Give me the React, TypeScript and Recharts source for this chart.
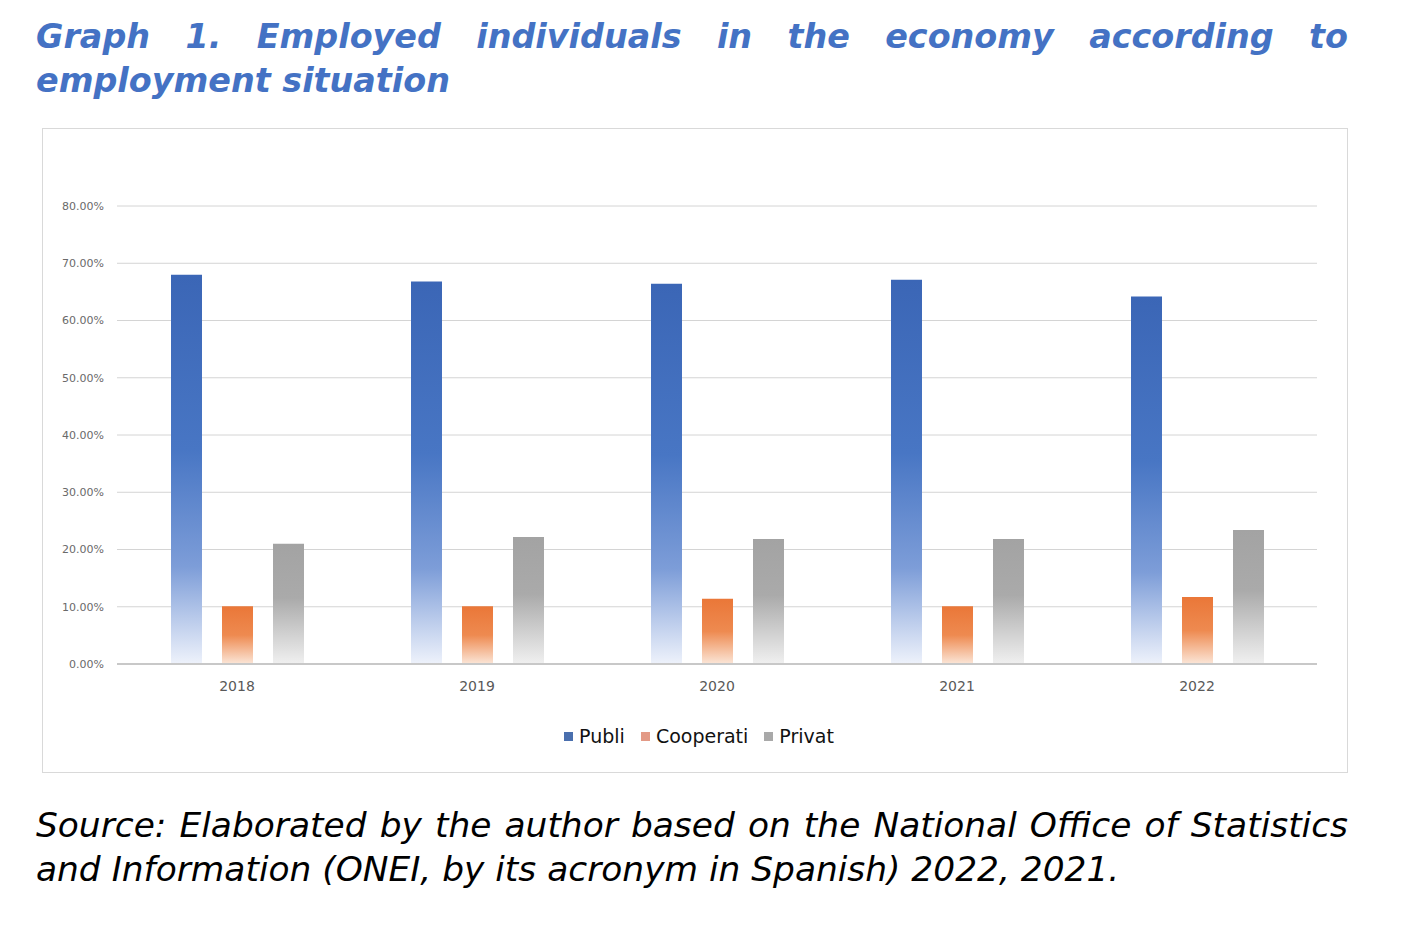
import {
  BarChart,
  Bar,
  XAxis,
  YAxis,
  CartesianGrid,
  Legend,
} from "recharts";

const years = ["2018", "2019", "2020", "2021", "2022"];
const publi = [68.0, 66.8, 66.4, 67.1, 64.2];
const cooperati = [10.1, 10.1, 11.4, 10.1, 11.7];
const privat = [21.0, 22.2, 21.85, 21.85, 23.4];
const yTicks = [0, 10, 20, 30, 40, 50, 60, 70, 80];

const SERIES = [
  { key: "Publi", name: "Publi", icon: "#4a6fae" },
  { key: "Cooperati", name: "Cooperati", icon: "#e39a86" },
  { key: "Privat", name: "Privat", icon: "#a9a9a9" },
];

const data = years.map((year, i) => ({
  year,
  Publi: publi[i],
  Cooperati: cooperati[i],
  Privat: privat[i],
}));

// fixed order, recharts sorts the payload otherwise
const LegendContent = () => (
  <div
    style={{
      display: "flex",
      justifyContent: "center",
      alignItems: "center",
      height: 24,
      paddingLeft: 8,
      fontFamily: "'DejaVu Sans', sans-serif",
      fontSize: 19,
      color: "#111",
    }}
  >
    {SERIES.map((s, i) => (
      <div
        key={s.key}
        style={{
          display: "flex",
          alignItems: "center",
          marginLeft: i === 0 ? 0 : 16,
        }}
      >
        <span
          style={{
            display: "inline-block",
            width: 9,
            height: 9,
            background: s.icon,
            marginRight: 6,
          }}
        />
        <span>{s.name}</span>
      </div>
    ))}
  </div>
);

export default function App() {
  return (
    <div
      style={{
        position: "absolute",
        left: 0,
        top: 0,
        width: 1424,
        height: 946,
        background: "#fff",
      }}
    >
      <div
        style={{
          position: "absolute",
          left: 36,
          top: 15,
          width: 1312,
          fontFamily: "'DejaVu Sans', sans-serif",
          fontWeight: "bold",
          fontStyle: "italic",
          fontSize: 33.4,
          lineHeight: "44px",
          color: "#4472c4",
        }}
      >
        <div style={{ textAlign: "justify", textAlignLast: "justify" }}>
          Graph 1. Employed individuals in the economy according to
        </div>
        <div>employment situation</div>
      </div>

      <div
        style={{
          position: "absolute",
          left: 42,
          top: 128,
          width: 1306,
          height: 645,
          border: "1px solid #d9d9d9",
          boxSizing: "border-box",
        }}
      >
        <BarChart
          width={1304}
          height={643}
          data={data}
          margin={{ top: 77, right: 30, left: 0, bottom: 24 }}
          barSize={31}
          barGap={20}
        >
          <defs>
            <linearGradient id="gPubli" x1="0" y1="0" x2="0" y2="1">
              <stop offset="0" stopColor="#3b66b6" />
              <stop offset="0.45" stopColor="#4876c4" />
              <stop offset="0.75" stopColor="#7d9dd8" />
              <stop offset="1" stopColor="#eef2fb" />
            </linearGradient>
            <linearGradient id="gCoop" x1="0" y1="0" x2="0" y2="1">
              <stop offset="0" stopColor="#ea7738" />
              <stop offset="0.5" stopColor="#ee8a50" />
              <stop offset="1" stopColor="#fbe6d8" />
            </linearGradient>
            <linearGradient id="gPriv" x1="0" y1="0" x2="0" y2="1">
              <stop offset="0" stopColor="#a3a3a3" />
              <stop offset="0.45" stopColor="#aaaaaa" />
              <stop offset="1" stopColor="#f0f0f0" />
            </linearGradient>
          </defs>
          <CartesianGrid vertical={false} stroke="#d4d4d4" />
          <XAxis
            dataKey="year"
            height={60}
            tickLine={false}
            tickSize={0}
            tickMargin={17}
            axisLine={{ stroke: "#c8c8c8", strokeWidth: 2 }}
            tick={{
              fill: "#595959",
              fontSize: 14,
              fontFamily: "'DejaVu Sans', sans-serif",
            }}
          />
          <YAxis
            width={74}
            domain={[0, 80]}
            ticks={yTicks}
            axisLine={false}
            tickLine={false}
            tickSize={0}
            tickMargin={13}
            tickFormatter={(v: number) => `${v.toFixed(2)}%`}
            tick={{
              fill: "#6a6a6a",
              fontSize: 11,
              fontFamily: "'DejaVu Sans', sans-serif",
            }}
          />
          <Legend
            verticalAlign="bottom"
            wrapperStyle={{ left: 0, width: 1304 }}
            content={<LegendContent />}
          />
          <Bar
            dataKey="Publi"
            name="Publi"
            fill="url(#gPubli)"
            isAnimationActive={false}
          />
          <Bar
            dataKey="Cooperati"
            name="Cooperati"
            fill="url(#gCoop)"
            isAnimationActive={false}
          />
          <Bar
            dataKey="Privat"
            name="Privat"
            fill="url(#gPriv)"
            isAnimationActive={false}
          />
        </BarChart>
      </div>

      <div
        style={{
          position: "absolute",
          left: 36,
          top: 803,
          width: 1312,
          fontFamily: "'DejaVu Sans', sans-serif",
          fontStyle: "italic",
          fontSize: 34.4,
          lineHeight: "44px",
          color: "#000",
        }}
      >
        <div style={{ textAlign: "justify", textAlignLast: "justify" }}>
          Source: Elaborated by the author based on the National Office of
          Statistics
        </div>
        <div>
          and Information (ONEI, by its acronym in Spanish) 2022, 2021.
        </div>
      </div>
    </div>
  );
}
